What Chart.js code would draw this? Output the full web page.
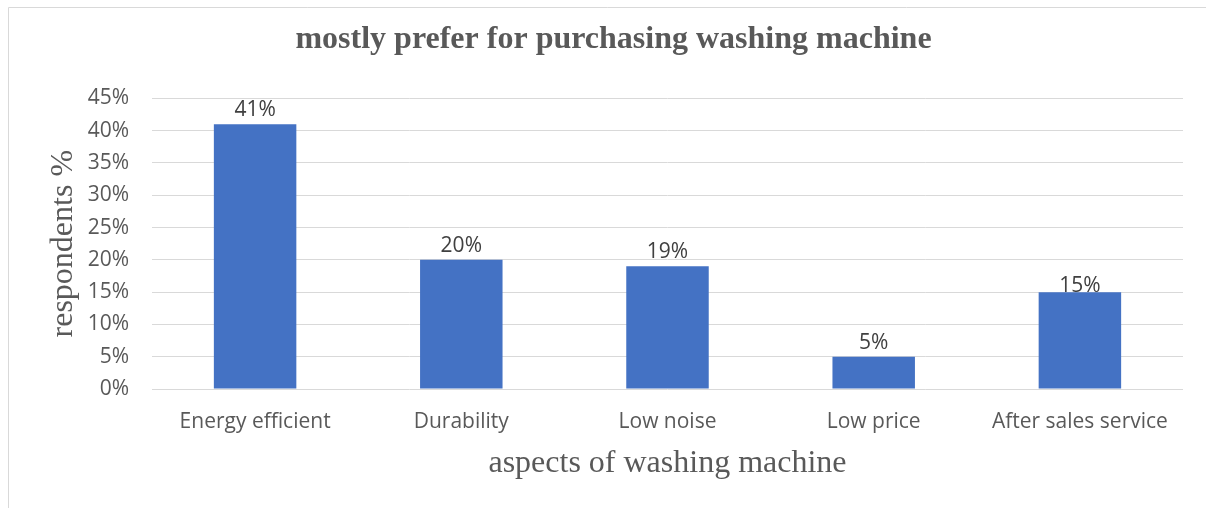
<!DOCTYPE html>
<html>
<head>
<meta charset="utf-8">
<style>
  html, body { margin: 0; padding: 0; background: #ffffff; }
  #wrap { width: 1206px; height: 508px; position: relative; }
</style>
<script src="https://cdn.jsdelivr.net/npm/chart.js@4.4.1/dist/chart.umd.min.js"></script>
</head>
<body>
<div id="wrap"><canvas id="chart" width="1206" height="508"></canvas></div>
<script>
// Survey results: which aspect respondents mostly prefer when buying a washing machine
const categories = ["Energy efficient", "Durability", "Low noise", "Low price", "After sales service"];
const shares = [41, 20, 19, 5, 15];           // percent of respondents
const tickValues = [0, 5, 10, 15, 20, 25, 30, 35, 40, 45];

const TEXT_GREY = '#595959';
const LABEL_GREY = '#404040';
const GRID_GREY = '#d9d9d9';
const BAR_BLUE = '#4472C4';
const SANS = '"Open Sans", "Liberation Sans", sans-serif';
const SERIF = '"Liberation Serif", "DejaVu Serif", serif';

// Thin frame along the top and left edges of the chart area
const framePlugin = {
  id: 'frame',
  beforeDraw(chart) {
    const { ctx } = chart;
    ctx.save();
    ctx.strokeStyle = GRID_GREY;
    ctx.lineWidth = 1;
    ctx.beginPath();
    ctx.moveTo(8.5, chart.height);
    ctx.lineTo(8.5, 7.5);
    ctx.lineTo(chart.width, 7.5);
    ctx.stroke();
    ctx.restore();
  }
};

// Value labels above each bar
const valueLabels = {
  id: 'valueLabels',
  afterDatasetsDraw(chart, args, opts) {
    const { ctx } = chart;
    const meta = chart.getDatasetMeta(0);
    const values = chart.data.datasets[0].data;
    ctx.save();
    ctx.font = opts.font;
    ctx.fillStyle = opts.color;
    ctx.textAlign = 'center';
    ctx.textBaseline = 'alphabetic';
    meta.data.forEach((bar, i) => {
      ctx.fillText(values[i] + '%', bar.x, bar.y - opts.lift[i]);
    });
    ctx.restore();
  }
};

new Chart(document.getElementById('chart'), {
  type: 'bar',
  data: {
    labels: categories,
    datasets: [{
      data: shares,
      backgroundColor: BAR_BLUE,
      borderWidth: 0,
      categoryPercentage: 1.0,
      barPercentage: 0.4
    }]
  },
  options: {
    responsive: false,
    animation: false,
    devicePixelRatio: 1,
    layout: { padding: { left: 44, right: 23, top: 0, bottom: 0 } },
    plugins: {
      legend: { display: false },
      tooltip: { enabled: false },
      title: {
        display: true,
        text: 'mostly prefer for purchasing washing machine',
        color: TEXT_GREY,
        font: { family: SERIF, size: 32, weight: 'bold', lineHeight: 1.2 },
        padding: { top: 21, bottom: 39 }
      },
      valueLabels: {
        font: '21px ' + SANS,
        color: LABEL_GREY,
        lift: [8, 8, 8, 8, 0]
      }
    },
    scales: {
      x: {
        grid: { display: false, drawTicks: false },
        border: { display: false },
        ticks: {
          color: TEXT_GREY,
          font: { family: SANS, size: 21 },
          padding: 20,
          maxRotation: 0
        },
        title: {
          display: true,
          text: 'aspects of washing machine',
          color: TEXT_GREY,
          font: { family: SERIF, size: 32, lineHeight: 1.2 },
          padding: { top: 0, bottom: 25 }
        },
        afterFit(scale) { scale.height = 119; }
      },
      y: {
        min: 0,
        max: 45,
        grid: { color: GRID_GREY, lineWidth: 1, drawTicks: false },
        border: { display: false },
        afterBuildTicks(scale) { scale.ticks = tickValues.map(v => ({ value: v })); },
        ticks: {
          color: TEXT_GREY,
          font: { family: SANS, size: 21 },
          padding: 23,
          callback: v => v + '%'
        },
        title: {
          display: true,
          text: 'respondents %',
          color: TEXT_GREY,
          font: { family: SERIF, size: 32, lineHeight: 1.2 },
          padding: { top: 0, bottom: 0 }
        },
        afterFit(scale) { scale.width = 108; }
      }
    }
  },
  plugins: [framePlugin, valueLabels]
});
</script>
</body>
</html>
